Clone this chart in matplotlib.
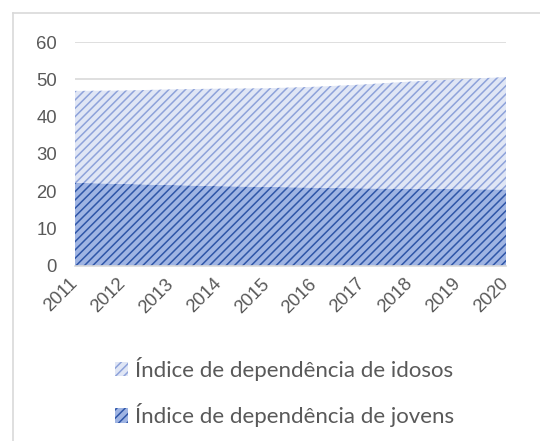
import matplotlib
matplotlib.use('Agg')
import matplotlib.pyplot as plt
from matplotlib.lines import Line2D
from matplotlib.patches import Patch

# ========== 数据 ==========
years = [2011, 2012, 2013, 2014, 2015, 2016, 2017, 2018, 2019, 2020]
jovens = [22.3, 22.0, 21.7, 21.4, 21.2, 21.0, 20.8, 20.7, 20.6, 20.5]
idosos = [24.6, 25.0, 25.6, 26.1, 26.4, 27.0, 27.8, 28.7, 29.4, 30.1]
label_idosos = 'Índice de dependência de idosos'
label_jovens = 'Índice de dependência de jovens'
yticks = [0, 10, 20, 30, 40, 50, 60]

# ========== 样式 ==========
plt.rcParams['font.family'] = ['Liberation Sans', 'DejaVu Sans']
plt.rcParams['hatch.linewidth'] = 1.1

c_jov_face = '#9fb4e3'
c_jov_hatch = '#2f56a8'
c_ido_face = '#e0e6f5'
c_ido_hatch = '#8ea2da'
tick_color = '#595959'
grid_color = '#d9d9d9'

fig = plt.figure(figsize=(5.4, 4.41), dpi=100)
W, H = 540, 441
ax = fig.add_axes([75 / W, (H - 266) / H, 431 / W, 224 / H])

# 堆叠面积
ax.stackplot(years, jovens, idosos, colors=[c_jov_face, c_ido_face],
             edgecolor='none', linewidth=0, zorder=2)
# 图案（hatch颜色单独设置）
bottom = [0] * len(years)
top1 = jovens
top2 = [a + b for a, b in zip(jovens, idosos)]
ax.fill_between(years, bottom, top1, facecolor='none', edgecolor=c_jov_hatch,
                hatch='////', linewidth=0, zorder=3)
ax.fill_between(years, top1, top2, facecolor='none', edgecolor=c_ido_hatch,
                hatch='////', linewidth=0, zorder=3)

ax.set_xlim(years[0], years[-1])
ax.set_ylim(0, 60)
ax.set_yticks(yticks)
ax.set_xticks(years)
ax.set_xticklabels([str(y) for y in years], rotation=45, ha='right',
                   va='center', rotation_mode='anchor')

ax.tick_params(axis='both', length=0, labelsize=13.3, colors=tick_color)
ax.tick_params(axis='y', pad=13)
ax.tick_params(axis='x', pad=11)

ax.grid(axis='y', color=grid_color, linewidth=1.2, zorder=0)
ax.set_axisbelow(True)
for s in ['top', 'right', 'left']:
    ax.spines[s].set_visible(False)
ax.spines['bottom'].set_color(grid_color)
ax.spines['bottom'].set_linewidth(1.2)
ax.spines['bottom'].set_zorder(4)

# 图表外框（只显示左、上边）
fig.add_artist(Line2D([12.5 / W, 12.5 / W], [0, 1 - 12.5 / H],
                      transform=fig.transFigure, color='#d9d9d9', linewidth=1.2))
fig.add_artist(Line2D([12.5 / W, 1], [1 - 12.5 / H, 1 - 12.5 / H],
                      transform=fig.transFigure, color='#d9d9d9', linewidth=1.2))

# 图例
handles = [
    Patch(facecolor=c_ido_face, edgecolor=c_ido_hatch, hatch='////', linewidth=0),
    Patch(facecolor=c_jov_face, edgecolor=c_jov_hatch, hatch='////', linewidth=0),
]
fig.legend(handles, [label_idosos, label_jovens], loc='upper left',
           bbox_to_anchor=(104 / W, 1 - 346 / H), frameon=False,
           prop={'family': ['Lato', 'DejaVu Sans'], 'size': 16},
           labelcolor=tick_color, handlelength=0.6, handleheight=0.6,
           handletextpad=0.3, labelspacing=1.0, borderpad=0)

fig.savefig('out.png', dpi=100)
